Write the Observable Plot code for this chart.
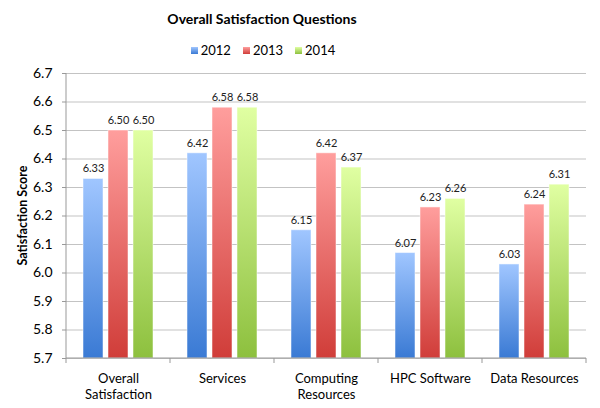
<!DOCTYPE html>
<html>
<head>
<meta charset="utf-8">
<script src="https://cdn.jsdelivr.net/npm/d3@7"></script>
<script src="https://cdn.jsdelivr.net/npm/@observablehq/plot@0.6"></script>
<style>
  body { margin: 0; background: #fff; font-family: Lato, "Open Sans", sans-serif; }
  #wrap { width: 600px; height: 408px; position: relative; }
  #title { position: absolute; left: 0; top: 10px; width: 524px; text-align: center; font-weight: bold; font-size: 14px; color: #000; }
  #legend { position: absolute; left: 0; top: 42px; width: 526px; text-align: center; font-size: 13px; color: #000; }
  #legend span.item { margin: 0 6px; }
  #legend i { display: inline-block; width: 7px; height: 7px; margin-right: 3px; vertical-align: 1px; }
  #chart { position: absolute; left: 0; top: 62px; }
</style>
</head>
<body>
<div id="wrap">
  <div id="title">Overall Satisfaction Questions</div>
  <div id="legend"></div>
  <div id="chart"></div>
</div>
<script>
const categories = ["Overall\nSatisfaction", "Services", "Computing\nResources", "HPC Software", "Data Resources"];
const years = ["2012", "2013", "2014"];
const values2012 = [6.33, 6.42, 6.15, 6.07, 6.03];
const values2013 = [6.50, 6.58, 6.42, 6.23, 6.24];
const values2014 = [6.50, 6.58, 6.37, 6.26, 6.31];
const yTicks = [5.7, 5.8, 5.9, 6.0, 6.1, 6.2, 6.3, 6.4, 6.5, 6.6, 6.7];

const gradients = {
  "2012": ["#a0c6ff", "#3a7ad4"],
  "2013": ["#ff9e9d", "#d03d39"],
  "2014": ["#e0ffa2", "#8dc03e"]
};

const seriesValues = {"2012": values2012, "2013": values2013, "2014": values2014};
const data = [];
for (const yr of years) {
  categories.forEach((c, i) => data.push({category: c, year: yr, value: seriesValues[yr][i]}));
}

// legend
const legend = document.getElementById("legend");
for (const yr of years) {
  const s = document.createElement("span");
  s.className = "item";
  s.innerHTML = `<i style="background:linear-gradient(${gradients[yr][0]},${gradients[yr][1]})"></i>${yr}`;
  legend.appendChild(s);
}

const plot = Plot.plot({
  width: 600,
  height: 346,
  marginTop: 11,
  marginBottom: 50,
  marginLeft: 64,
  marginRight: 13,
  style: {fontFamily: "Lato, 'Open Sans', sans-serif", background: "#fff"},
  fx: {domain: categories, padding: 0, label: null},
  x: {domain: years, paddingInner: 0.19, paddingOuter: 0.607, axis: null},
  y: {domain: [5.7, 6.7], label: null},
  marks: [
    Plot.gridY(yTicks, {stroke: "#c3c3c3", strokeOpacity: 1}),
    Plot.axisY(yTicks, {tickSize: 4, tickPadding: 10, fontSize: 14, tickFormat: d3.format(".1f"), stroke: "#999", fill: "#000",
      label: null}),
    Plot.axisFx({anchor: "bottom", tickSize: 0, tickPadding: 12, fontSize: 13, lineHeight: 1.3, fill: "#000", label: null}),
    ...years.map(yr => Plot.barY(data.filter(d => d.year === yr), {
      fx: "category", x: "year", y1: 5.7, y2: "value",
      fill: `url(#grad${yr})`, stroke: "#ffffff", strokeOpacity: 0.5, strokeWidth: 1
    })),
    Plot.text(data, {fx: "category", x: "year", y: "value", text: d => d3.format(".2f")(d.value),
      dy: -10, fontSize: 11, fill: "#222"})
  ]
});

document.getElementById("chart").appendChild(plot);

const svg = d3.select(plot);
const defs = svg.insert("defs", ":first-child");
for (const yr of years) {
  const g = defs.append("linearGradient").attr("id", "grad" + yr)
    .attr("x1", 0).attr("y1", 0).attr("x2", 0).attr("y2", 1);
  g.append("stop").attr("offset", "0%").attr("stop-color", gradients[yr][0]);
  g.append("stop").attr("offset", "100%").attr("stop-color", gradients[yr][1]);
}

// axis lines, category boundary ticks and y label, from the library's scales
const fx = plot.scale("fx");
const y = plot.scale("y");
const y0 = y.apply(5.7), yTop = y.apply(6.7);
const bounds = categories.map(c => fx.apply(c));
bounds.push(fx.apply(categories[categories.length - 1]) + fx.bandwidth);
const left = bounds[0], right = bounds[bounds.length - 1];
const g = svg.append("g").attr("stroke", "#999").attr("fill", "none");
g.append("line").attr("x1", left).attr("x2", left).attr("y1", yTop).attr("y2", y0);
g.append("line").attr("x1", left).attr("x2", right).attr("y1", y0).attr("y2", y0);
for (const b of bounds) g.append("line").attr("x1", b).attr("x2", b).attr("y1", y0).attr("y2", y0 + 5);
svg.append("text")
  .attr("transform", `translate(${left - 42},${(y0 + yTop) / 2}) rotate(-90)`)
  .attr("text-anchor", "middle").attr("dominant-baseline", "middle")
  .attr("font-weight", "bold").attr("font-size", 12.5).attr("fill", "#000")
  .text("Satisfaction Score");
</script>
</body>
</html>
